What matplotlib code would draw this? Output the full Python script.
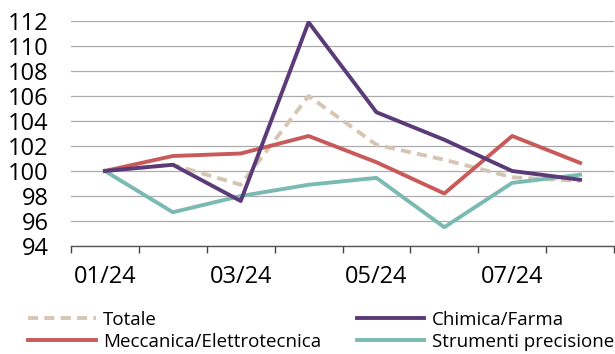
import matplotlib
matplotlib.use("Agg")
import matplotlib.pyplot as plt
import numpy as np

plt.rcParams['font.family'] = ['Open Sans', 'DejaVu Sans']

# indici mensili, 01/24 = 100
mesi = ['01/24', '02/24', '03/24', '04/24', '05/24', '06/24', '07/24', '08/24']
totale = [100, 100.5, 98.9, 106.0, 102.1, 100.9, 99.5, 99.2]
chimica = [100, 100.5, 97.6, 111.9, 104.7, 102.5, 100.0, 99.3]
meccanica = [100, 101.2, 101.4, 102.8, 100.7, 98.2, 102.8, 100.65]
strumenti = [100, 96.7, 98.0, 98.9, 99.45, 95.5, 99.05, 99.7]

c_tot = '#D5C6B3'
c_chi = '#5B3A78'
c_mec = '#C85A5A'
c_str = '#7BBAB3'

fig = plt.figure(figsize=(6.15, 3.54), dpi=100)
ax = fig.add_axes([71 / 615, 1 - 246 / 354, 543 / 615, 225 / 354])

x = np.arange(len(mesi))
lw = 2.8
l_tot, = ax.plot(x, totale, color=c_tot, lw=lw, dashes=(2.6, 1.6), label='Totale')
l_mec, = ax.plot(x, meccanica, color=c_mec, lw=lw, label='Meccanica/Elettrotecnica')
l_str, = ax.plot(x, strumenti, color=c_str, lw=lw, label='Strumenti precisione')
l_chi, = ax.plot(x, chimica, color=c_chi, lw=lw, label='Chimica/Farma')

ax.set_xlim(-0.5, len(mesi) - 0.5)
ax.set_ylim(94, 112)
ax.set_yticks(np.arange(94, 113, 2))
ax.yaxis.grid(True, color='#ABABAB', lw=0.9)
ax.set_axisbelow(True)

ax.set_xticks(x[::2])
ax.set_xticklabels(mesi[::2])
ax.set_xticks(np.arange(-0.5, len(mesi)), minor=True)
ax.tick_params(axis='x', which='major', length=0, pad=14, labelsize=17)
ax.tick_params(axis='x', which='minor', length=5, width=1, color='#444444', direction='out')
ax.tick_params(axis='y', length=0, pad=16, labelsize=17)

for s in ['top', 'right', 'left']:
    ax.spines[s].set_visible(False)
ax.spines['bottom'].set_color('#555555')
ax.spines['bottom'].set_linewidth(1)

fig.legend(handles=[l_tot, l_mec, l_chi, l_str], ncol=2, frameon=False,
           loc='upper left', bbox_to_anchor=(28 / 615, 1 - 311 / 354),
           fontsize=13.5, handlelength=3.6, handletextpad=0.4,
           columnspacing=1.9, labelspacing=0.2, borderaxespad=0, borderpad=0)

fig.savefig('out.png', dpi=100)
